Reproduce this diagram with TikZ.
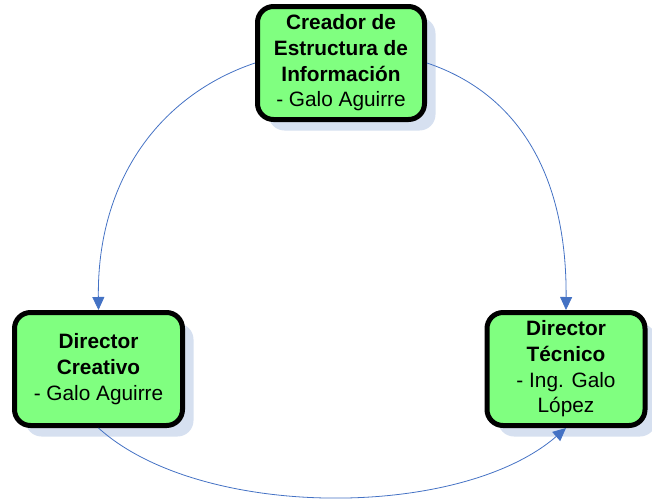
\documentclass[tikz,border=0pt]{standalone}
\usepackage{fontspec}
\setmainfont{Liberation Sans}
\usetikzlibrary{arrows.meta,shadows}
\definecolor{boxgreen}{RGB}{128,255,128}
\definecolor{shadowblue}{RGB}{214,224,240}
\definecolor{linkblue}{RGB}{68,114,196}
\tikzset{
  rolebox/.style={draw=black, line width=5pt, rounded corners=16pt, fill=boxgreen,
    align=center, inner sep=0pt, font=\fontsize{20.8}{25.7}\selectfont,
    drop shadow={shadow xshift=11pt, shadow yshift=-11pt, fill=shadowblue, opacity=1}},
  link/.style={draw=linkblue, line width=0.8pt, -{Triangle[length=13pt,width=12pt]}}
}
\begin{document}
\begin{tikzpicture}[x=1pt,y=-1pt]
\useasboundingbox (0,0) rectangle (652,499);
\node[rolebox, minimum width=167pt, minimum height=113pt] (top) at (341,63)
  {\textbf{Creador de}\\\textbf{Estructura de}\\\textbf{Información}\\- Galo Aguirre};
\node[rolebox, minimum width=168pt, minimum height=113pt] (left) at (98.5,369)
  {\textbf{Director}\\\textbf{Creativo}\\- Galo Aguirre};
\node[rolebox, minimum width=158pt, minimum height=113pt] (right) at (566,369)
  {\textbf{Director}\\\textbf{Técnico}\\- Ing. Galo\\López};
\draw[link] (top.west) .. controls (160,95) and (97,180) .. (left.north);
\draw[link] (top.east) .. controls (522,95) and (567,180) .. (right.north);
\draw[link] (left.south) .. controls (200,520) and (460,520) .. (right.south);
\end{tikzpicture}
\end{document}
